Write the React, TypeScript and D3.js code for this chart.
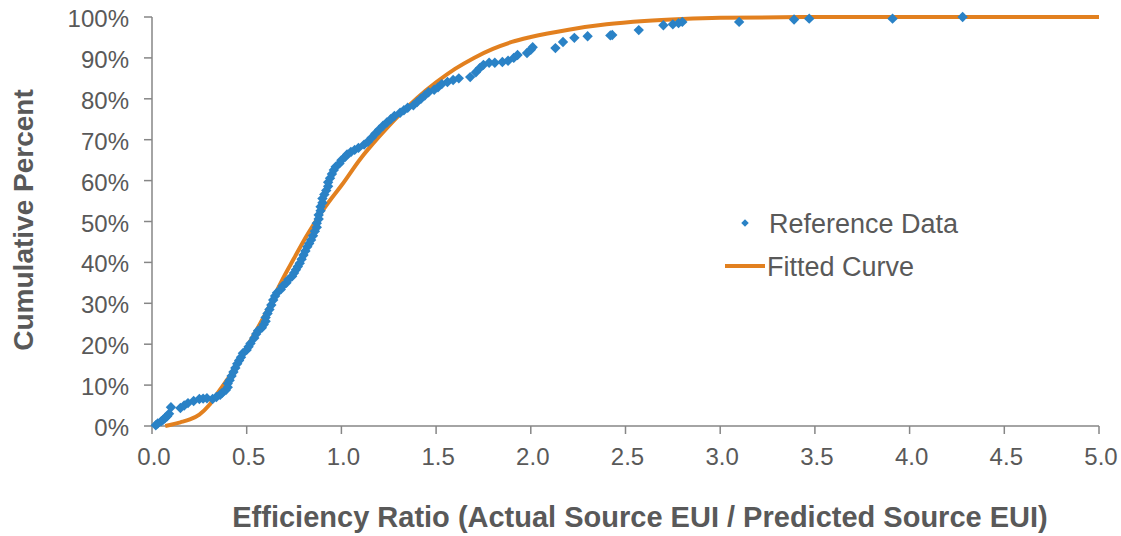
import React from 'react';
import * as d3 from 'd3';

// reference data points (efficiency ratio, cumulative percent)
const refX = [
  0.02, 0.03, 0.05, 0.06, 0.07, 0.08, 0.09, 0.10, 0.15, 0.17, 0.19, 0.22, 0.25, 0.27, 0.29, 0.32,
  0.34, 0.36, 0.37, 0.39, 0.40, 0.40, 0.41, 0.42, 0.43, 0.44, 0.45, 0.46, 0.47, 0.48, 0.50, 0.51,
  0.52, 0.54, 0.55, 0.56, 0.58, 0.59, 0.60, 0.60, 0.61, 0.62, 0.63, 0.64, 0.65, 0.66, 0.68, 0.69,
  0.71, 0.72, 0.74, 0.75, 0.76, 0.77, 0.78, 0.79, 0.80, 0.81, 0.82, 0.83, 0.84, 0.85, 0.86, 0.87,
  0.87, 0.88, 0.88, 0.89, 0.89, 0.90, 0.90, 0.91, 0.92, 0.93, 0.93, 0.94, 0.95, 0.96, 0.97, 0.99,
  1.00, 1.02, 1.03, 1.05, 1.07, 1.09, 1.12, 1.14, 1.16, 1.18, 1.20, 1.22, 1.24, 1.26, 1.28, 1.31,
  1.33, 1.35, 1.38, 1.40, 1.42, 1.44, 1.46, 1.49, 1.51, 1.53, 1.56, 1.59, 1.62, 1.68, 1.71, 1.73,
  1.75, 1.78, 1.81, 1.85, 1.88, 1.91, 1.93, 1.98, 2.00, 2.01, 2.13, 2.17, 2.23, 2.30, 2.42, 2.43,
  2.57, 2.70, 2.75, 2.78, 2.80, 3.10, 3.39, 3.47, 3.91, 4.28,
];
const refY = [
  0.2, 0.6, 1.2, 1.6, 2.0, 2.4, 3.0, 4.6, 4.4, 5.0, 5.6, 6.1, 6.6, 6.7, 6.8, 6.6,
  7.1, 7.6, 8.1, 8.8, 9.5, 10.4, 11.2, 12.2, 13.2, 14.2, 15.2, 16.0, 16.8, 17.8, 18.6, 19.4,
  20.2, 21.5, 22.5, 23.3, 24.0, 24.8, 25.6, 26.5, 27.5, 28.5, 29.6, 30.8, 31.8, 32.6, 33.4, 34.2,
  35.0, 35.8, 36.6, 37.4, 38.2, 39.0, 39.8, 40.8, 41.8, 42.8, 43.8, 44.6, 45.5, 46.5, 47.6, 48.6,
  49.6, 50.6, 51.6, 52.6, 53.6, 54.6, 55.6, 56.6, 57.6, 58.6, 59.6, 60.6, 61.6, 62.6, 63.4, 64.2,
  65.0, 65.8, 66.4, 67.0, 67.5, 68.0, 68.8, 69.5, 70.5, 71.5, 72.5, 73.4, 74.2, 75.0, 75.8, 76.6,
  77.2, 77.8, 78.4, 79.2, 80.0, 80.8, 81.6, 82.2, 82.8, 83.6, 84.1, 84.6, 85.0, 85.3, 86.5, 87.5,
  88.3, 88.8, 88.8, 89.0, 89.3, 90.0, 90.7, 91.2, 92.0, 92.6, 92.4, 93.9, 94.9, 95.3, 95.5, 95.6,
  96.8, 98.0, 98.2, 98.5, 98.8, 98.8, 99.4, 99.6, 99.6, 100,
];

// fitted curve
const fitX = [
  0.07, 0.1, 0.15, 0.2, 0.25, 0.3, 0.35, 0.4, 0.45, 0.5, 0.55, 0.6, 0.65, 0.7, 0.75, 0.8, 0.85,
  0.9, 0.95, 1.0, 1.1, 1.2, 1.3, 1.4, 1.5, 1.6, 1.7, 1.8, 1.9, 2.0, 2.2, 2.4, 2.6, 2.8, 3.0, 3.5,
  4.0, 4.5, 5.0,
];
const fitY = [
  0, 0.3, 0.9, 1.6, 2.8, 5.0, 8.3, 11.5, 15.0, 19.2, 23.3, 27.5, 32.2, 36.8, 41.0, 45.2, 49.0,
  52.6, 55.8, 58.8, 65.3, 70.8, 75.8, 80.2, 84.0, 87.3, 90.0, 92.2, 93.9, 95.1, 96.9, 98.2, 99.0,
  99.5, 99.8, 100, 100, 100, 100,
];

const xTicks = [0, 0.5, 1, 1.5, 2, 2.5, 3, 3.5, 4, 4.5, 5];
const yTicks = [0, 10, 20, 30, 40, 50, 60, 70, 80, 90, 100];

const W = 1121;
const H = 536;
const FONT = '"Liberation Sans", Arial, sans-serif';
const TEXT = '#595959';
const AXIS = '#868686';
const BLUE = '#2A82C6';
const ORANGE = '#E2801F';

export default function App() {
  const x = d3.scaleLinear().domain([0, 5]).range([152, 1099]);
  const y = d3.scaleLinear().domain([0, 100]).range([426, 17]);

  const line = d3
    .line<number>()
    .x((d, i) => x(fitX[i]))
    .y((d) => y(d))
    .curve(d3.curveMonotoneX);

  const diamond = d3.symbol().type(d3.symbolSquare).size(54)();
  const smallDiamond = d3.symbol().type(d3.symbolSquare).size(28)();

  return (
    <svg
      width={W}
      height={H}
      style={{ position: 'absolute', left: 0, top: 0, background: '#fff' }}
      fontFamily={FONT}
    >
      {/* axes */}
      <line x1={x(0)} x2={x(5)} y1={y(0)} y2={y(0)} stroke={AXIS} strokeWidth={1.5} />
      <line x1={x(0)} x2={x(0)} y1={y(0)} y2={y(100)} stroke={AXIS} strokeWidth={1.5} />
      {xTicks.map((t) => (
        <g key={'x' + t}>
          <line x1={x(t)} x2={x(t)} y1={y(0)} y2={y(0) + 8} stroke={AXIS} strokeWidth={1.5} />
          <text x={x(t) + 2} y={465} textAnchor="middle" fontSize={24} fill={TEXT}>
            {t.toFixed(1)}
          </text>
        </g>
      ))}
      {yTicks.map((t) => (
        <g key={'y' + t}>
          <line x1={x(0) - 8} x2={x(0)} y1={y(t)} y2={y(t)} stroke={AXIS} strokeWidth={1.5} />
          <text x={129} y={y(t) + 10} textAnchor="end" fontSize={24} fill={TEXT}>
            {t + '%'}
          </text>
        </g>
      ))}

      {/* fitted curve */}
      <path d={line(fitY) || ''} fill="none" stroke={ORANGE} strokeWidth={4} />

      {/* reference data */}
      {refX.map((v, i) => (
        <path
          key={i}
          d={diamond || ''}
          transform={`translate(${x(v)},${y(refY[i])}) rotate(45)`}
          fill={BLUE}
        />
      ))}

      {/* legend */}
      <path d={smallDiamond || ''} transform="translate(745,223) rotate(45)" fill={BLUE} />
      <text x={769} y={233} fontSize={27} fill={TEXT}>
        Reference Data
      </text>
      <line x1={725} x2={765} y1={266} y2={266} stroke={ORANGE} strokeWidth={4} />
      <text x={767} y={276} fontSize={27} fill={TEXT}>
        Fitted Curve
      </text>

      {/* axis titles */}
      <text
        transform="translate(33,220) rotate(-90)"
        textAnchor="middle"
        fontSize={28}
        fontWeight="bold"
        fill={TEXT}
      >
        Cumulative Percent
      </text>
      <text x={640} y={527} textAnchor="middle" fontSize={29} fontWeight="bold" fill={TEXT}>
        Efficiency Ratio (Actual Source EUI / Predicted Source EUI)
      </text>
    </svg>
  );
}
